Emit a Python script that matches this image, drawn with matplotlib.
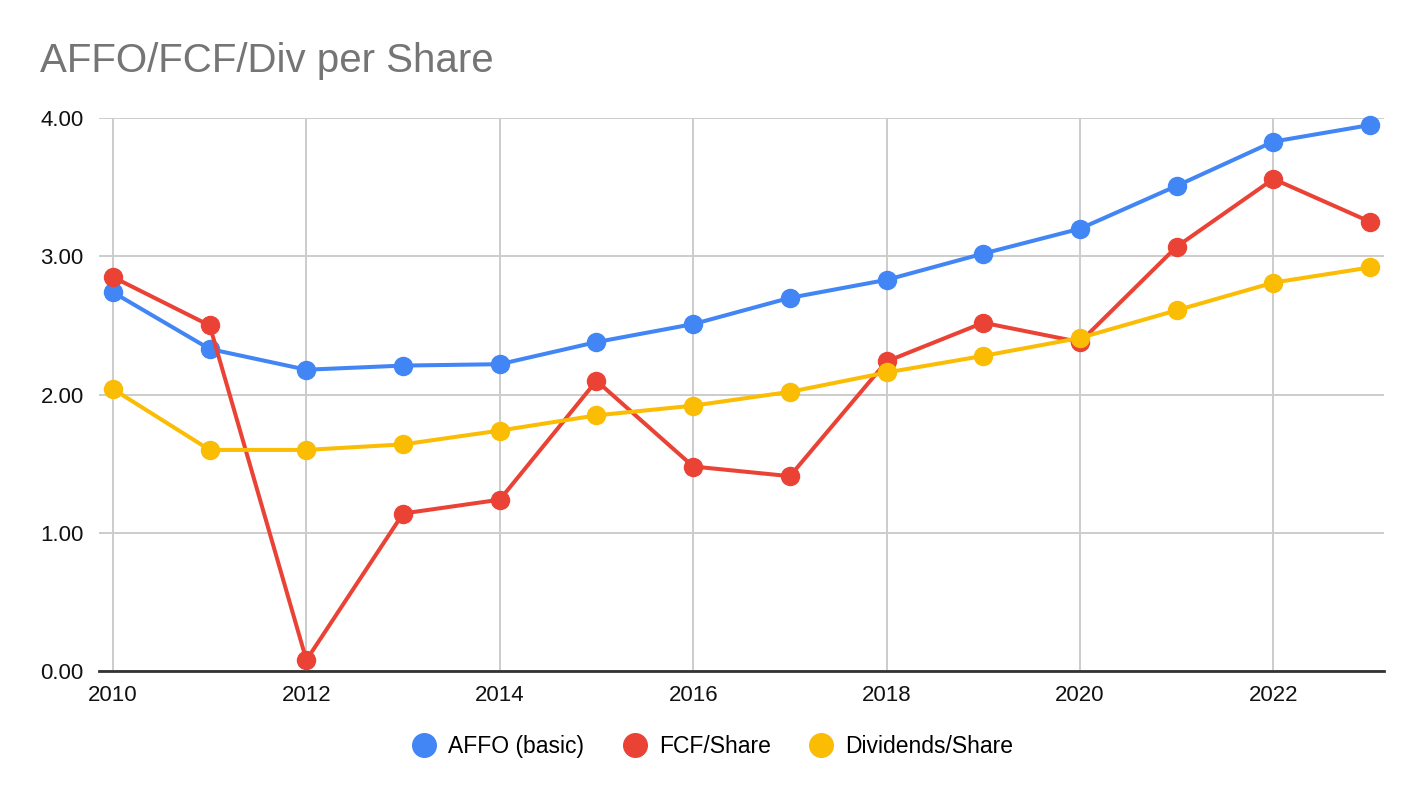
import matplotlib.pyplot as plt
from matplotlib.lines import Line2D

plt.rcParams["font.family"] = ["Liberation Sans", "DejaVu Sans"]

# Values
years = [2010, 2011, 2012, 2013, 2014, 2015, 2016, 2017, 2018, 2019, 2020, 2021, 2022, 2023]
affo = [2.74, 2.33, 2.18, 2.21, 2.22, 2.38, 2.51, 2.70, 2.83, 3.02, 3.20, 3.51, 3.83, 3.95]
fcf = [2.85, 2.50, 0.08, 1.14, 1.24, 2.10, 1.48, 1.41, 2.24, 2.52, 2.38, 3.07, 3.56, 3.25]
divs = [2.04, 1.60, 1.60, 1.64, 1.74, 1.85, 1.92, 2.02, 2.16, 2.28, 2.41, 2.61, 2.81, 2.92]

series_names = ["AFFO (basic)", "FCF/Share", "Dividends/Share"]
colors = ["#4285F4", "#EA4335", "#FBBC04"]
yticks = [0, 1, 2, 3, 4]
xticks = [2010, 2012, 2014, 2016, 2018, 2020, 2022]

fig = plt.figure(figsize=(14.24, 7.98), dpi=100)
ax = fig.add_axes([0.0695, 0.159, 0.9025, 0.693])

for vals, c, name in zip([affo, fcf, divs], colors, series_names):
    ax.plot(years, vals, color=c, linewidth=2.9, marker="o", markersize=13,
            label=name, solid_capstyle="round", zorder=3)

ax.set_xlim(2009.855, 2023.145)
ax.set_ylim(0, 4.0)
ax.set_yticks(yticks)
ax.set_yticklabels([f"{v:.2f}" for v in yticks])
ax.set_xticks(xticks)
ax.set_xticklabels([str(x) for x in xticks])

ax.grid(True, color="#cccccc", linewidth=1.4, zorder=0)
for s in ["top", "right", "left"]:
    ax.spines[s].set_visible(False)
ax.spines["bottom"].set_color("#333333")
ax.spines["bottom"].set_linewidth(2)
ax.spines["bottom"].set_zorder(2)
ax.tick_params(axis="both", length=0, labelsize=16, colors="#111111")
ax.tick_params(axis="y", pad=11)
ax.tick_params(axis="x", pad=10)
for line in ax.lines:
    line.set_clip_on(False)

fig.text(0.028, 0.923, "AFFO/FCF/Div per Share", fontsize=29, color="#757575",
         ha="left", va="center")

handles = [Line2D([0], [0], linestyle="none", marker="o", markersize=17,
                  color=c) for c in colors]
fig.legend(handles, series_names, loc="center", bbox_to_anchor=(0.5, 0.064),
           ncol=3, frameon=False, fontsize=16.5, handletextpad=0.45,
           columnspacing=1.6, handlelength=1.2)

fig.savefig("out.png", dpi=100, facecolor="white")
